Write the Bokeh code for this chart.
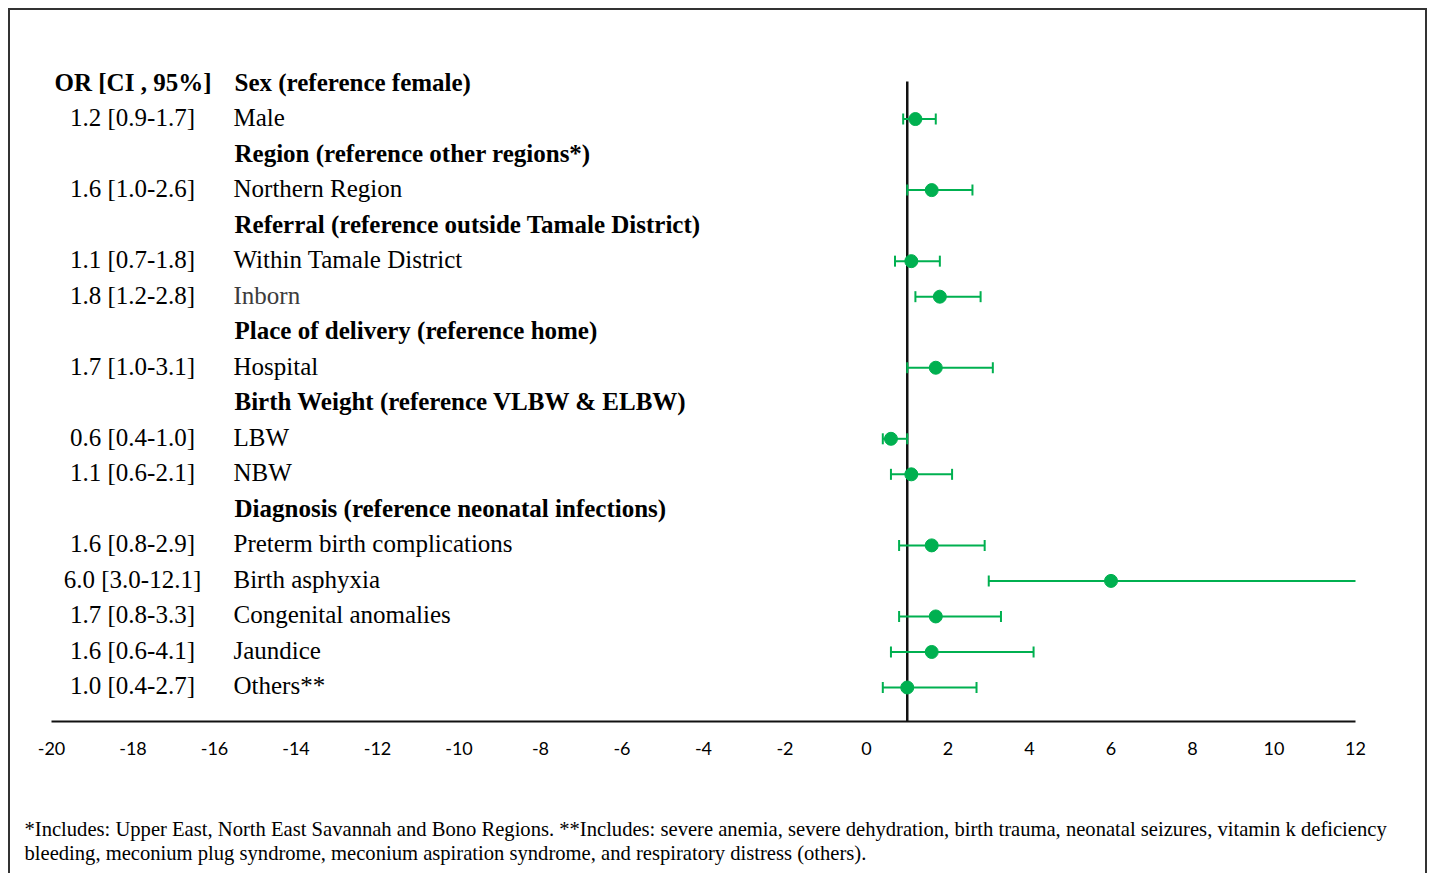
import numpy as np
from bokeh.plotting import figure
from bokeh.models import Range1d, FixedTicker, Title, ColumnDataSource, PrintfTickFormatter
from bokeh.core.properties import value
from bokeh.embed import file_html
from bokeh.resources import INLINE

# ---------------- data ----------------
header_labels = [
    "Sex (reference female)",
    "Region (reference other regions*)",
    "Referral (reference outside Tamale District)",
    "Place of delivery (reference home)",
    "Birth Weight (reference VLBW & ELBW)",
    "Diagnosis (reference neonatal infections)",
]
header_rows = [0, 2, 4, 7, 9, 12]

item_labels = [
    "Male", "Northern Region", "Within Tamale District", "Inborn", "Hospital",
    "LBW", "NBW", "Preterm birth complications", "Birth asphyxia",
    "Congenital anomalies", "Jaundice", "Others**",
]
item_rows = [1, 3, 5, 6, 8, 10, 11, 13, 14, 15, 16, 17]
odds_ratio = [1.2, 1.6, 1.1, 1.8, 1.7, 0.6, 1.1, 1.6, 6.0, 1.7, 1.6, 1.0]
ci_lower = [0.9, 1.0, 0.7, 1.2, 1.0, 0.4, 0.6, 0.8, 3.0, 0.8, 0.6, 0.4]
ci_upper = [1.7, 2.6, 1.8, 2.8, 3.1, 1.0, 2.1, 2.9, 12.1, 3.3, 4.1, 2.7]

or_header = "OR [CI , 95%]"
x_ticks = list(range(-20, 13, 2))
reference_line = 1

footnote_1 = ("*Includes: Upper East, North East Savannah and Bono Regions. **Includes: severe anemia, "
              "severe dehydration, birth trauma, neonatal seizures, vitamin k deficiency")
footnote_2 = ("bleeding, meconium plug syndrome, meconium aspiration syndrome, and respiratory distress (others).")

# ---------------- styles ----------------
GREEN = "#00B050"
SERIF = "Liberation Serif"
W, H = 1429, 873
PX_X = 1304 / 32.0      # px per x unit
PX_Y = 711 / 20.012     # px per row
TXT_DY = -1.5 / PX_Y    # small upward nudge for row texts

def xd(page_x):
    return -20 + (page_x - 51) / PX_X

def yd(page_y):
    return (page_y - 83) / PX_Y

border_css = ("linear-gradient(#333,#333) 8px 8px / 2px 100% no-repeat, "
              "linear-gradient(#333,#333) 8px 8px / 1419px 2px no-repeat, "
              "linear-gradient(#333,#333) 1425px 8px / 2px 100% no-repeat, #ffffff")

p = figure(width=W, height=H, output_backend="svg", toolbar_location=None,
           x_range=Range1d(-20, 12), y_range=Range1d(17.957, -2.055),
           y_axis_location=None, min_border_left=51, min_border_right=74,
           min_border_top=10, min_border_bottom=152,
           styles={"background": border_css})
p.outline_line_color = None
p.grid.visible = False
p.background_fill_color = None
p.border_fill_color = None

ax = p.xaxis[0]
ax.ticker = FixedTicker(ticks=x_ticks)
ax.formatter = PrintfTickFormatter(format="%d")
ax.axis_line_color = "#111111"
ax.axis_line_width = 2
ax.major_tick_line_color = None
ax.minor_tick_line_color = None
ax.major_tick_out = 0
ax.major_tick_in = 0
ax.major_label_standoff = 20
ax.major_label_text_font = "Lato"
ax.major_label_text_font_size = "18px"
ax.major_label_text_color = "black"

# reference line
p.segment(x0=[reference_line], y0=[yd(81)], x1=[reference_line], y1=[18.5],
          line_color="#111111", line_width=2.5)

src = ColumnDataSource(dict(y=item_rows, orv=odds_ratio, lo=ci_lower, hi=ci_upper,
                            ty=[r + TXT_DY for r in item_rows],
                            label=item_labels,
                            ortext=[f"{o:.1f} [{l:.1f}-{u:.1f}]" for o, l, u in zip(odds_ratio, ci_lower, ci_upper)],
                            tcolor=["#3c3c3c" if s == "Inborn" else "black" for s in item_labels]))

p.segment(x0="lo", y0="y", x1="hi", y1="y", source=src, line_color=GREEN, line_width=2)
p.scatter(x="lo", y="y", source=src, marker="dash", angle=np.pi / 2, size=11,
          line_color=GREEN, line_width=2)
p.scatter(x="hi", y="y", source=src, marker="dash", angle=np.pi / 2, size=11,
          line_color=GREEN, line_width=2)
p.scatter(x="orv", y="y", source=src, marker="circle", size=13,
          fill_color=GREEN, line_color=GREEN)

# texts
p.text(x=xd(233), y="ty", text="label", source=src, text_font=value(SERIF),
       text_font_size="25px", text_baseline="middle", text_align="left", text_color="tcolor")
p.text(x=xd(132), y="ty", text="ortext", source=src, text_font=value(SERIF),
       text_font_size="25px", text_baseline="middle", text_align="center", text_color="black")
p.text(x=[xd(234)] * len(header_labels), y=[r + TXT_DY for r in header_rows], text=header_labels,
       text_font=value(SERIF), text_font_size="25px", text_font_style="bold", text_baseline="middle",
       text_align="left", text_color="black")
p.text(x=[xd(132.5)], y=[TXT_DY], text=[or_header], text_font=value(SERIF),
       text_font_size="25px", text_font_style="bold", text_baseline="middle",
       text_align="center", text_color="black")

# footnotes (spacer first, then the two lines)
p.add_layout(Title(text=" ", standoff=34, text_font=SERIF, text_font_size="20.6px",
                   text_font_style="normal"), "below")
for txt in [footnote_1, footnote_2]:
    p.add_layout(Title(text=txt, align="left", offset=-27, standoff=0, text_font=SERIF,
                       text_font_size="20.6px", text_font_style="normal", text_color="black"),
                 "below")

open("out.html", "w").write(file_html(p, INLINE))
